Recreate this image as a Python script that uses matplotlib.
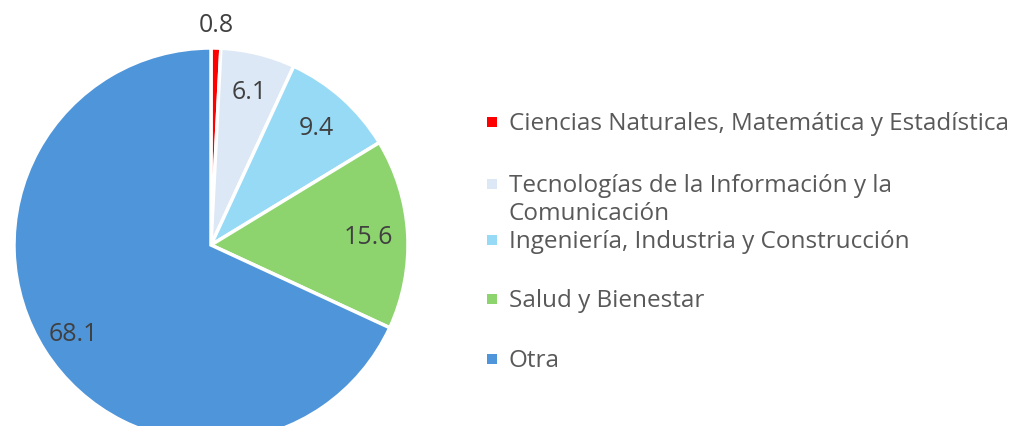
import numpy as np
import matplotlib.pyplot as plt
from matplotlib.patches import Rectangle

# data (percent by field)
categories = ["Ciencias Naturales, Matemática y Estadística",
              "Tecnologías de la Información y la\nComunicación",
              "Ingeniería, Industria y Construcción",
              "Salud y Bienestar",
              "Otra"]
values = [0.8, 6.1, 9.4, 15.6, 68.1]
value_labels = ["0.8", "6.1", "9.4", "15.6", "68.1"]
colors = ["#FF0000", "#DCE8F5", "#96DAF6", "#8DD46F", "#4F95DA"]

plt.rcParams['font.family'] = ['Open Sans', 'DejaVu Sans']

fig = plt.figure(figsize=(10.23, 4.27), dpi=100)
ax = fig.add_axes([0, 0, 1, 1])

cx, cy, r = 211, 181, 197
wedges, _ = ax.pie(values, colors=colors, startangle=90, counterclock=False,
                   center=(cx, cy), radius=r, frame=True,
                   wedgeprops=dict(edgecolor='white', linewidth=2.5))
ax.set_xlim(0, 1023)
ax.set_ylim(0, 427)
ax.set_aspect('equal')
ax.axis('off')

# value labels
for i, w in enumerate(wedges):
    mid = np.deg2rad((w.theta1 + w.theta2) / 2)
    d = 1.12 if values[i] < 2 else (0.80 if values[i] < 20 else 0.83)
    ax.text(cx + d * r * np.cos(mid), cy + d * r * np.sin(mid), value_labels[i],
            ha='center', va='center', fontsize=18, color='#404040')

# legend drawn by hand to follow the original spacing
leg_y = [123, 185, 241, 300, 360]
line_h = 28
for lab, col, y in zip(categories, colors, leg_y):
    fig.patches.append(Rectangle((487 / 1023, 1 - (y + 5) / 427), 10 / 1023, 10 / 427,
                                 transform=fig.transFigure, facecolor=col, edgecolor='none'))
    extra = lab.count("\n") * line_h
    fig.text(509 / 1023, 1 - (y + 7 + extra) / 427, lab, ha='left', va='baseline',
             fontsize=17.5, color='#595959', linespacing=1.22)

fig.savefig("out.png", dpi=100)
